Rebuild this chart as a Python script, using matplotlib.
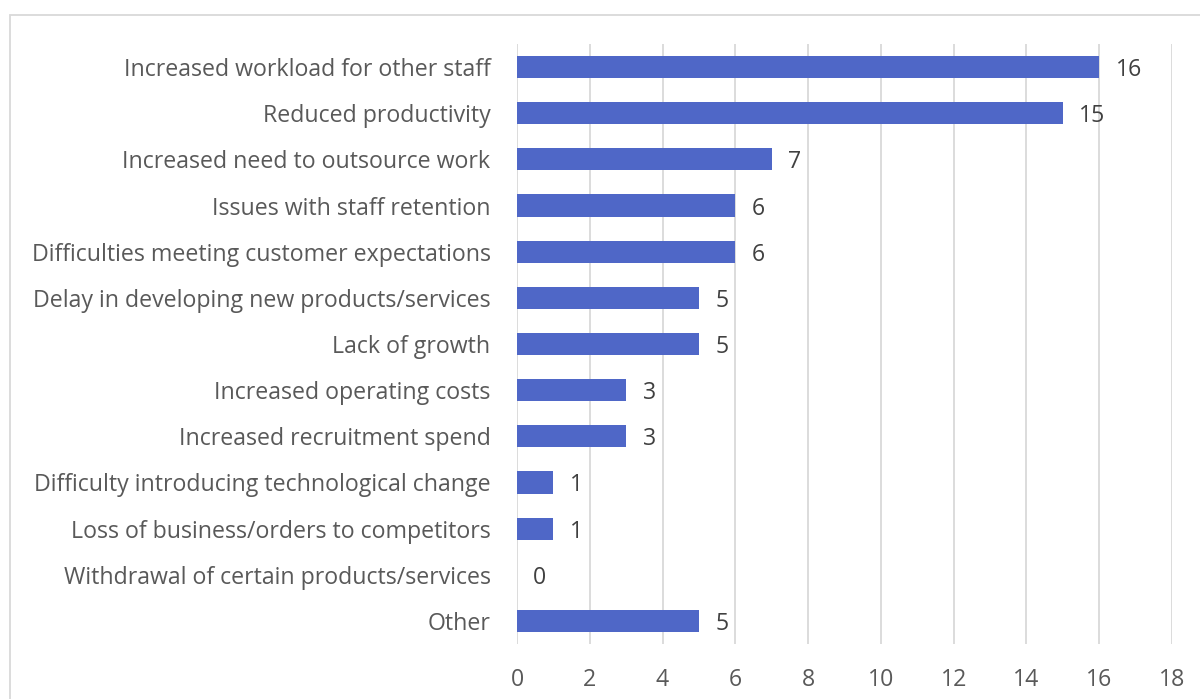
import matplotlib
matplotlib.use("Agg")
import matplotlib.pyplot as plt
from matplotlib.patches import Rectangle

# survey answers, top to bottom
categorias = [
    "Increased workload for other staff",
    "Reduced productivity",
    "Increased need to outsource work",
    "Issues with staff retention",
    "Difficulties meeting customer expectations",
    "Delay in developing new products/services",
    "Lack of growth",
    "Increased operating costs",
    "Increased recruitment spend",
    "Difficulty introducing technological change",
    "Loss of business/orders to competitors",
    "Withdrawal of certain products/services",
    "Other",
]
valores = [16, 15, 7, 6, 6, 5, 5, 3, 3, 1, 1, 0, 5]
ticks_x = [0, 2, 4, 6, 8, 10, 12, 14, 16, 18]

plt.rcParams['font.family'] = ['Open Sans', 'DejaVu Sans']

fig = plt.figure(figsize=(12, 6.99), dpi=100)
ax = fig.add_axes([0.4308, 0.0787, 0.5459, 0.8584])

pos = list(range(len(categorias)))
ax.barh(pos, valores, height=0.48, color="#4F67C7", zorder=3)

for p, v in zip(pos, valores):
    ax.text(v + 0.45, p, str(v), va="center_baseline", ha="left",
            fontsize=16.7, color="#404040")

ax.set_xlim(0, 18)
ax.set_ylim(len(categorias) - 0.5, -0.5)
ax.set_xticks(ticks_x)
ax.set_yticks(pos)
ax.set_yticklabels(categorias, va="center_baseline")

ax.tick_params(axis="y", length=0, pad=19, labelsize=16.7, labelcolor="#595959")
ax.tick_params(axis="x", length=0, pad=17, labelsize=16.7, labelcolor="#595959")

ax.grid(axis="x", color="#D9D9D9", linewidth=1.3, zorder=0)
for s in ax.spines.values():
    s.set_visible(False)

# moldura do grafico
fig.patches.append(Rectangle((10 / 1200, -0.1), 1.2, 1 - 15 / 699 + 0.1,
                             transform=fig.transFigure, fill=False,
                             edgecolor="#D9D9D9", linewidth=1.3))

fig.savefig("out.png", dpi=100)
